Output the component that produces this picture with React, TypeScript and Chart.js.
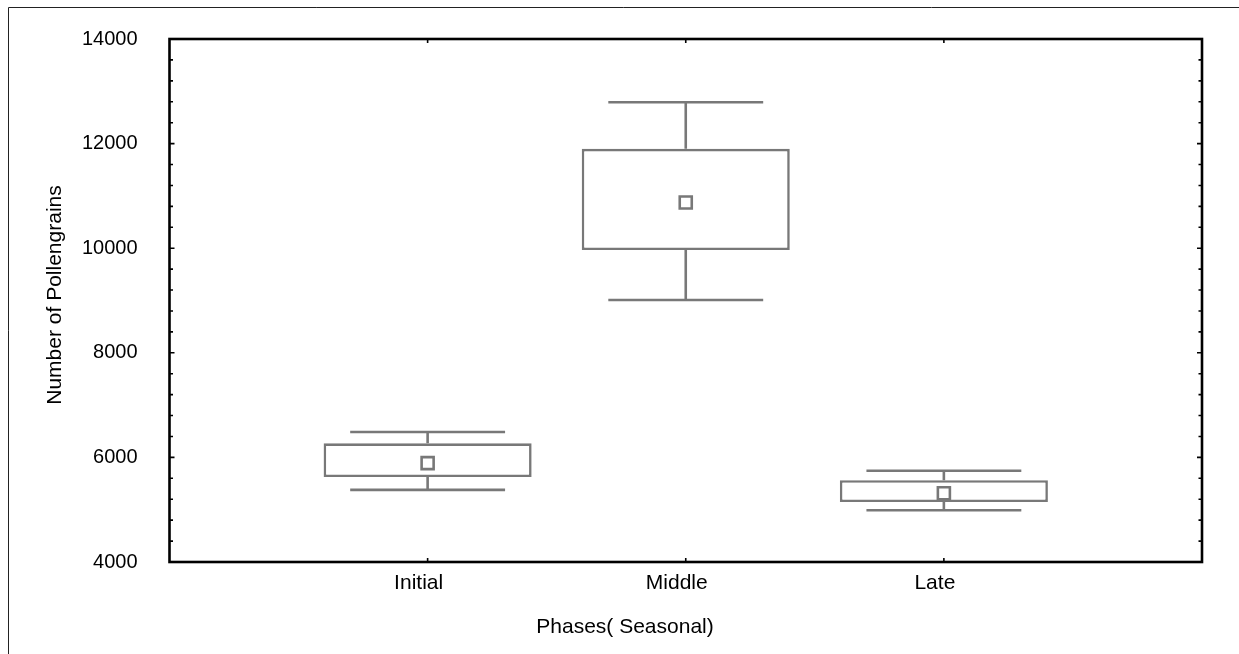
import React, { useEffect, useRef } from 'react';
import { Chart, registerables } from 'chart.js';

Chart.register(...registerables);

// ---- data ----
const categories = ['Initial', 'Middle', 'Late'];
const categoryPositions = [1, 2, 3];
const minValues = [5380, 9010, 4990];
const q1Values = [5625, 9965, 5145];
const meanValues = [5890, 10875, 5315];
const q3Values = [6270, 11900, 5565];
const maxValues = [6485, 12790, 5745];
const yTicks = [4000, 6000, 8000, 10000, 12000, 14000];
const yMinorStep = 400;
const xTitle = 'Phases( Seasonal)';
const yTitle = 'Number of Pollengrains';

// ---- styles ----
const GRAY = '#787878';
const FONT = '"Liberation Sans", Arial, Helvetica, sans-serif';
const W = 1239;
const H = 654;
const LINE_W = 2.6;

const decorPlugin = {
  id: 'boxDecor',
  beforeDatasetsDraw(chart: any) {
    const { ctx, scales } = chart;
    const x = scales.x;
    const y = scales.y;
    ctx.save();
    ctx.strokeStyle = GRAY;
    ctx.lineWidth = LINE_W;
    categoryPositions.forEach((pos, i) => {
      const cx = x.getPixelForValue(pos);
      const l = x.getPixelForValue(pos - 0.3);
      const r = x.getPixelForValue(pos + 0.3);
      const yMax = y.getPixelForValue(maxValues[i]);
      const yMin = y.getPixelForValue(minValues[i]);
      ctx.beginPath();
      ctx.moveTo(cx, y.getPixelForValue(q3Values[i]));
      ctx.lineTo(cx, yMax);
      ctx.moveTo(l, yMax);
      ctx.lineTo(r, yMax);
      ctx.moveTo(cx, y.getPixelForValue(q1Values[i]));
      ctx.lineTo(cx, yMin);
      ctx.moveTo(l, yMin);
      ctx.lineTo(r, yMin);
      ctx.stroke();
    });
    ctx.restore();
  },
  afterDraw(chart: any) {
    const { ctx, chartArea, scales } = chart;
    const x = scales.x;
    const y = scales.y;
    const { left, right, top, bottom } = chartArea;
    ctx.save();
    // outer figure border (left & top only visible)
    ctx.strokeStyle = '#222';
    ctx.lineWidth = 1;
    ctx.beginPath();
    ctx.moveTo(8.5, H);
    ctx.lineTo(8.5, 7.5);
    ctx.lineTo(W, 7.5);
    ctx.stroke();

    // frame
    ctx.strokeStyle = '#000';
    ctx.lineWidth = 2.6;
    ctx.strokeRect(left, top, right - left, bottom - top);

    // inward ticks
    ctx.lineWidth = 1.6;
    ctx.beginPath();
    for (let v = y.min; v <= y.max + 0.001; v += yMinorStep) {
      const yp = y.getPixelForValue(v);
      const len = yTicks.includes(v) ? 5 : 3.5;
      ctx.moveTo(left, yp);
      ctx.lineTo(left + len, yp);
      ctx.moveTo(right, yp);
      ctx.lineTo(right - len, yp);
    }
    categoryPositions.forEach((pos) => {
      const xp = x.getPixelForValue(pos);
      ctx.moveTo(xp, bottom);
      ctx.lineTo(xp, bottom - 4);
      ctx.moveTo(xp, top);
      ctx.lineTo(xp, top + 4);
    });
    ctx.stroke();

    // axis titles
    ctx.fillStyle = '#000';
    ctx.font = `21px ${FONT}`;
    ctx.textAlign = 'center';
    ctx.textBaseline = 'alphabetic';
    ctx.fillText(xTitle, 625, 633);
    ctx.translate(55, 295);
    ctx.rotate(-Math.PI / 2);
    ctx.textBaseline = 'middle';
    ctx.fillText(yTitle, 0, 0);
    ctx.restore();
  },
};

export default function App() {
  const canvasRef = useRef<HTMLCanvasElement | null>(null);

  useEffect(() => {
    if (!canvasRef.current) return;
    const chart = new Chart(canvasRef.current, {
      type: 'bar',
      data: {
        datasets: [
          {
            type: 'scatter',
            data: categoryPositions.map((p, i) => ({ x: p, y: meanValues[i] })),
            pointStyle: 'rect',
            pointRadius: 8.5,
            pointHoverRadius: 8.5,
            borderWidth: LINE_W,
            borderColor: GRAY,
            backgroundColor: '#ffffff',
          } as any,
          {
            type: 'bar',
            data: categoryPositions.map((p, i) => ({ x: p, y: [q1Values[i], q3Values[i]] })),
            backgroundColor: '#ffffff',
            borderColor: GRAY,
            borderWidth: LINE_W,
            borderSkipped: false,
            categoryPercentage: 1,
            barPercentage: 0.806,
          } as any,
        ],
      },
      options: {
        animation: false,
        responsive: false,
        events: [],
        layout: { padding: { left: 0, top: 39, right: 37, bottom: 0 } },
        plugins: {
          legend: { display: false },
          tooltip: { enabled: false },
        },
        scales: {
          x: {
            type: 'linear',
            offset: false,
            min: 0,
            max: 4,
            grid: { display: false, drawTicks: false, offset: false },
            border: { display: false },
            afterFit: (s: any) => {
              s.height = 92;
              s.paddingLeft = 0;
              s.paddingRight = 0;
            },
            ticks: {
              stepSize: 1,
              autoSkip: false,
              padding: 9,
              labelOffset: -9,
              color: '#000',
              font: { family: FONT, size: 21 },
              callback: (v: any) => {
                const idx = categoryPositions.indexOf(Number(v));
                return idx >= 0 ? categories[idx] : '';
              },
            },
          },
          y: {
            type: 'linear',
            min: 4000,
            max: 14000,
            grid: { display: false, drawTicks: false },
            border: { display: false },
            afterFit: (s: any) => {
              s.width = 169.5;
              s.paddingTop = 0;
              s.paddingBottom = 0;
            },
            afterBuildTicks: (s: any) => {
              s.ticks = yTicks.map((v) => ({ value: v }));
            },
            ticks: {
              padding: 32,
              color: '#000',
              font: { family: FONT, size: 20 },
              callback: (v: any) => String(v),
            },
          },
        },
      } as any,
      plugins: [decorPlugin],
    });
    return () => chart.destroy();
  }, []);

  return (
    <div style={{ position: 'absolute', left: 0, top: 0, width: W, height: H, background: '#fff' }}>
      <canvas ref={canvasRef} width={W} height={H} style={{ display: 'block' }} />
    </div>
  );
}
